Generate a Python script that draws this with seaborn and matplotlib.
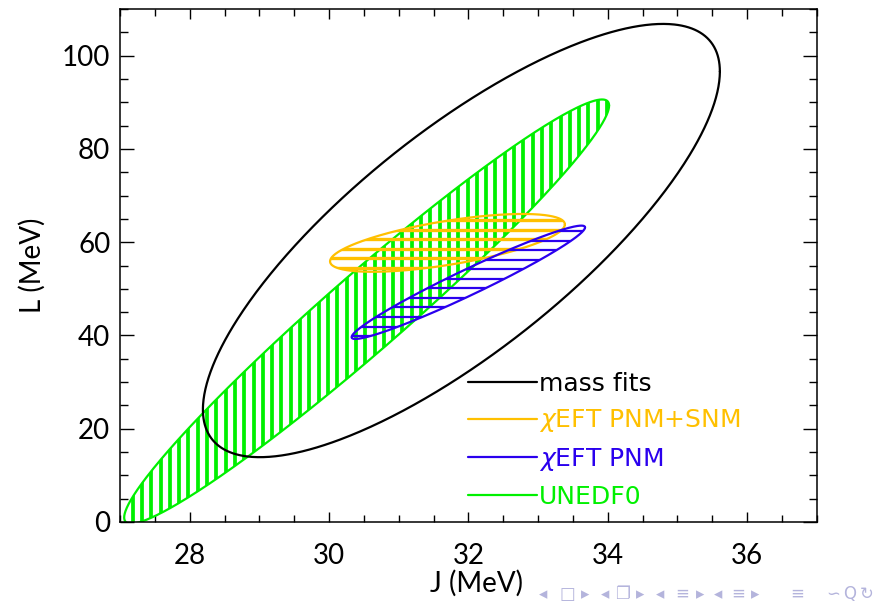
import numpy as np
import matplotlib
matplotlib.use("Agg")
import matplotlib.pyplot as plt
from matplotlib.patches import Polygon
from matplotlib.ticker import MultipleLocator
import seaborn as sns

# Confidence ellipses in the (J, L) plane: centre, half extents and J-L correlation
labels = ["mass fits", r"$\chi$EFT PNM+SNM", r"$\chi$EFT PNM", "UNEDF0"]
colors = ["#000000", "#FFC000", "#2A00EE", "#00F000"]
center_J = [31.90, 31.70, 32.00, 30.54]
center_L = [60.35, 59.85, 51.40, 45.13]
half_J = [3.71, 1.685, 1.675, 3.48]
half_L = [46.45, 6.20, 12.15, 45.47]
corr = [0.78, 0.64, 0.968, 0.971]

# hatching of the filled regions: None, horizontal or vertical
hatch_dir = [None, "h", "h", "v"]
hatch_step = [None, 2.05, 2.05, 0.1335]
hatch_phase = [None, 64.75, 62.4, 27.182]
hatch_lw = [None, 2.4, 1.6, 2.7]

x_ticks = [28, 30, 32, 34, 36]
y_ticks = [0, 20, 40, 60, 80, 100]

sns.set_theme(style="ticks")
plt.rcParams["font.family"] = ["Lato", "DejaVu Sans"]

fig = plt.figure(figsize=(8.74, 6.03), dpi=100)
ax = fig.add_axes([120 / 874, 81 / 603, 696.7 / 874, 513 / 603])

t = np.linspace(0, 2 * np.pi, 721)


def ellipse(i):
    phi = np.arccos(corr[i])
    J = center_J[i] + half_J[i] * np.cos(t)
    L = center_L[i] + half_L[i] * np.cos(t - phi)
    return J, L


order = [3, 0, 1, 2]
handles = {}
for i in order:
    J, L = ellipse(i)
    if hatch_dir[i] is not None:
        clip = Polygon(np.column_stack([J, L]), closed=True, transform=ax.transData,
                       facecolor="none", edgecolor="none")
        ax.add_patch(clip)
        if hatch_dir[i] == "v":
            lo = hatch_phase[i] - hatch_step[i] * np.ceil((hatch_phase[i] - J.min()) / hatch_step[i])
            pos = np.arange(lo, J.max() + hatch_step[i], hatch_step[i])
            coll = ax.vlines(pos, L.min() - 1, L.max() + 1, colors=colors[i], linewidth=hatch_lw[i])
        else:
            lo = hatch_phase[i] - hatch_step[i] * np.ceil((hatch_phase[i] - L.min()) / hatch_step[i])
            pos = np.arange(lo, L.max() + hatch_step[i], hatch_step[i])
            coll = ax.hlines(pos, J.min() - 0.1, J.max() + 0.1, colors=colors[i], linewidth=hatch_lw[i])
        coll.set_clip_path(clip)
    sns.lineplot(x=J, y=L, sort=False, estimator=None, color=colors[i], linewidth=1.6, ax=ax)
    handles[i] = ax.lines[-1]

ax.set_xlim(27, 37)
ax.set_ylim(0, 110)
ax.set_xticks(x_ticks)
ax.set_yticks(y_ticks)
ax.xaxis.set_minor_locator(MultipleLocator(0.5))
ax.yaxis.set_minor_locator(MultipleLocator(5))
ax.tick_params(axis="both", which="both", direction="in", top=True, right=True,
               color="black", width=1.0, labelsize=20, labelcolor="black")
ax.tick_params(axis="x", which="major", length=7.2, pad=15)
ax.tick_params(axis="x", which="minor", length=4.8)
ax.tick_params(axis="y", which="major", length=10, pad=7)
ax.tick_params(axis="y", which="minor", length=5.8)
for s in ax.spines.values():
    s.set_color("black")
    s.set_linewidth(1.1)

ax.set_xlabel("J (MeV)", fontsize=20, color="black")
ax.xaxis.set_label_coords((476 - 120) / 696.7, -(570 - 522) / 513)
ax.set_ylabel("L (MeV)", fontsize=20, color="black", labelpad=12)

leg = ax.legend([handles[i] for i in range(4)], labels, loc="upper left",
                bbox_to_anchor=((468 - 120) / 696.7, (522 - 372) / 513),
                frameon=False, prop={"family": "DejaVu Sans", "size": 18},
                handlelength=2.76, handletextpad=0.08,
                labelspacing=0.46, borderpad=0, borderaxespad=0, labelcolor="linecolor")
for ln in leg.get_lines():
    ln.set_linewidth(1.6)

# navigation symbols along the bottom edge
nav = [("◂", 543), ("□", 567), ("▸", 585), ("◂", 605), ("❐", 622), ("▸", 640),
       ("◂", 660), ("≡", 682), ("▸", 700), ("◂", 718), ("≡", 738), ("▸", 755),
       ("≡", 797), ("∽", 833), ("Q", 850), ("↻", 867)]
for ch, xp in nav:
    fig.text(xp / 874, 1 - 594 / 603, ch, fontsize=12, color="#B4B4DC",
             ha="center", va="center", family=["DejaVu Sans", "Noto Sans CJK SC"])

fig.savefig("out.png", dpi=100)
